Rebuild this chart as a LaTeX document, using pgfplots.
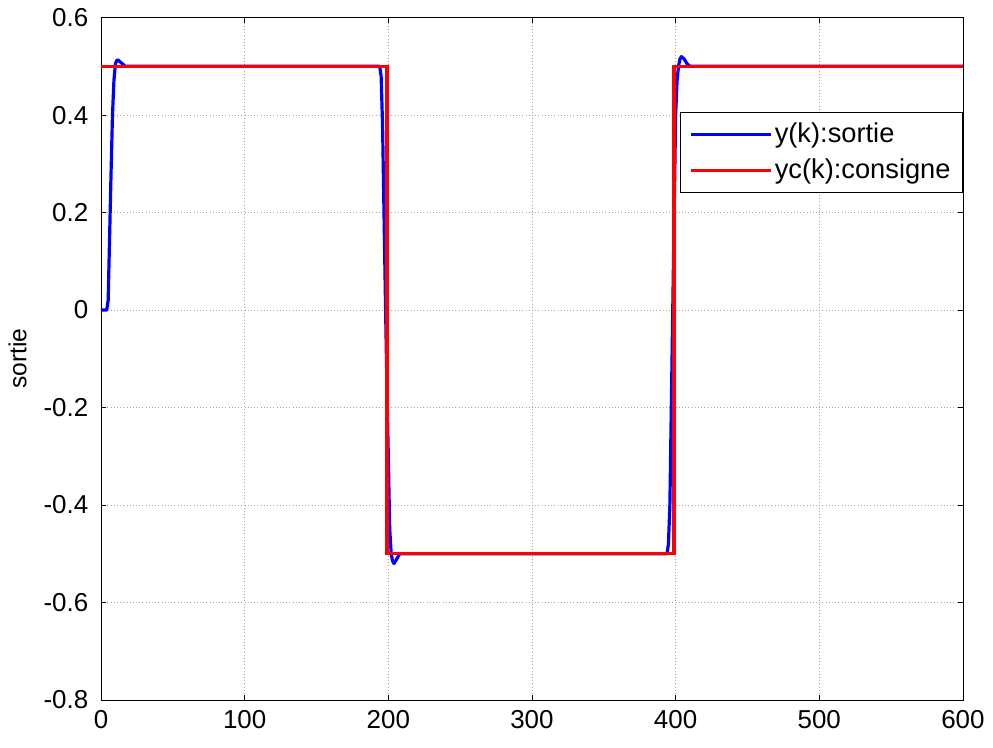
\documentclass[border=0pt]{standalone}
\usepackage{pgfplots}
\pgfplotsset{compat=1.18}
\usepackage{fontspec}
\setmainfont{Liberation Sans}

% Closed-loop response y(k) against the set point yc(k)
\pgfplotstableread{
k y
0 0
4 0
5 0.02
6 0.15
7 0.28
8 0.40
9 0.47
10 0.505
11 0.512
12 0.513
13 0.51
15 0.505
17 0.5
194 0.5
195 0.48
196 0.38
197 0.2
198 0.02
199 -0.15
200 -0.3
201 -0.45
202 -0.5
203 -0.515
204 -0.52
206 -0.51
208 -0.5
394 -0.5
395 -0.48
396 -0.4
397 -0.2
398 0
399 0.2
400 0.4
401 0.47
402 0.5
403 0.515
404 0.52
406 0.515
408 0.505
410 0.5
600 0.5
}\sortie

\pgfplotstableread{
k yc
0 0.5
199 0.5
199 -0.5
399 -0.5
399 0.5
600 0.5
}\consigne

\begin{document}
\fontsize{19}{22}\selectfont
\begin{tikzpicture}
\begin{axis}[
  scale only axis,
  width=648pt, height=513pt,
  xmin=0, xmax=600, ymin=-0.8, ymax=0.6,
  xtick={0,100,...,600},
  ytick={-0.8,-0.6,...,0.6},
  yticklabels={-0.8,-0.6,-0.4,-0.2,0,0.2,0.4,0.6},
  /pgf/number format/assume math mode=true,
  tick label style={font=\fontsize{19.5}{22}\selectfont},
  yticklabel style={xshift=-3pt},
  xticklabel style={yshift=-1pt},
  label style={font=\fontsize{18.5}{21}\selectfont},
  ylabel={sortie},
  ylabel style={yshift=0pt},
  tick align=inside,
  ticks=both,
  xtick pos=both, ytick pos=both,
  major tick length=4pt,
  tick style={black, line width=0.6pt},
  axis line style={black, line width=0.6pt},
  grid=major,
  grid style={gray!70, dotted, line width=0.5pt},
  legend style={at={(1,0.862)}, anchor=north east,
    draw=black, line width=0.6pt, font=\fontsize{20.5}{23}\selectfont,
    inner xsep=7pt, inner ysep=6pt, row sep=5pt},
  legend cell align=left,
  legend image code/.code={\draw[#1, line width=2.4pt] (0cm,0cm) -- (2.1cm,0cm);},
]
\addplot[blue, line width=2.4pt, line join=round] table[x=k, y=y] {\sortie};
\addlegendentry{y(k):sortie}
\addplot[red, line width=2.6pt] table[x=k, y=yc] {\consigne};
\addlegendentry{yc(k):consigne}
\end{axis}
% a little white margin below the tick labels
\path (current bounding box.south east) ++(0pt,-8pt);
\end{tikzpicture}
\end{document}
